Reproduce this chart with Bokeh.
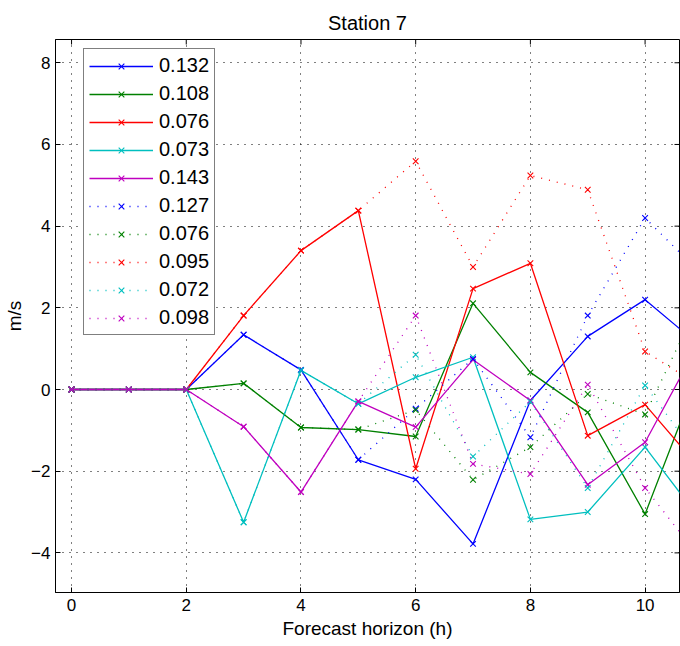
from bokeh.plotting import figure
from bokeh.models import Range1d, Legend, LegendItem, FixedTicker
from bokeh.embed import file_html
from bokeh.resources import INLINE

horizon = [0, 1, 2, 3, 4, 5, 6, 7, 8, 9, 10, 11]
x_ticks = [0, 2, 4, 6, 8, 10]
y_ticks = [-4, -2, 0, 2, 4, 6, 8]
x_lo, x_hi = -0.28, 10.6
y_lo, y_hi = -4.97, 8.57

labels = ["0.132", "0.108", "0.076", "0.073", "0.143",
          "0.127", "0.076", "0.095", "0.072", "0.098"]

s_blue_132 = [0, 0, 0, 1.34, 0.48, -1.72, -2.20, -3.78, -0.27, 1.30, 2.20, 1.02]
s_green_108 = [0, 0, 0, 0.15, -0.93, -0.98, -1.15, 2.11, 0.42, -0.56, -3.05, 0.60]
s_red_076 = [0, 0, 0, 1.81, 3.40, 4.38, -1.94, 2.47, 3.09, -1.13, -0.37, -2.00]
s_cyan_073 = [0, 0, 0, -3.25, 0.47, -0.35, 0.30, 0.79, -3.18, -3.00, -1.41, -3.25]
s_mag_143 = [0, 0, 0, -0.91, -2.51, -0.29, -0.92, 0.73, -0.27, -2.33, -1.29, 1.30]

d_blue_127 = [0, 0, 0, 1.34, 0.48, -1.72, -0.47, 0.75, -1.17, 1.81, 4.20, 2.80]
d_green_076 = [0, 0, 0, 0.15, -0.93, -0.98, -0.50, -2.21, -1.41, -0.11, -0.61, 2.30]
d_red_095 = [0, 0, 0, 1.81, 3.40, 4.38, 5.59, 3.00, 5.24, 4.89, 0.93, 0.05]
d_cyan_072 = [0, 0, 0, -3.25, 0.47, -0.35, 0.85, -1.64, -0.30, -2.41, 0.10, -1.80]
d_mag_098 = [0, 0, 0, -0.91, -2.51, -0.29, 1.81, -1.82, -2.07, 0.12, -2.41, -4.20]

series = [s_blue_132, s_green_108, s_red_076, s_cyan_073, s_mag_143,
          d_blue_127, d_green_076, d_red_095, d_cyan_072, d_mag_098]
colors = ["#0000FF", "#008000", "#FF0000", "#00BFBF", "#BF00BF"] * 2
dashes = ["solid"] * 5 + ["1 7"] * 5

FONT = "Liberation Sans, Arial"

p = figure(width=680, height=646, output_backend="svg", toolbar_location=None,
           x_range=Range1d(x_lo, x_hi), y_range=Range1d(y_lo, y_hi),
           title="Station 7", x_axis_label="Forecast horizon (h)", y_axis_label="m/s",
           min_border_left=55, min_border_right=1, min_border_top=39, min_border_bottom=54)

p.title.align = "center"
p.title.vertical_align = "top"
p.title.text_font = FONT
p.title.text_font_size = "20px"
p.title.text_font_style = "normal"
p.title.text_color = "#000000"
p.title.standoff = 8

p.outline_line_color = "#000000"
p.outline_line_width = 1
p.background_fill_color = "#FFFFFF"
p.border_fill_color = "#FFFFFF"

for ax, ticks in ((p.xaxis[0], x_ticks), (p.yaxis[0], y_ticks)):
    ax.ticker = FixedTicker(ticks=ticks)
    ax.major_tick_in = 5
    ax.major_tick_out = 0
    ax.minor_tick_line_color = None
    ax.axis_line_color = "#000000"
    ax.major_tick_line_color = "#000000"
    ax.major_label_text_font = FONT
    ax.major_label_text_font_size = "17px"
    ax.major_label_text_color = "#000000"
    ax.axis_label_text_font = FONT
    ax.axis_label_text_font_size = "19px"
    ax.axis_label_text_font_style = "normal"
    ax.axis_label_text_color = "#000000"
p.xaxis[0].major_label_standoff = 6
p.xaxis[0].axis_label_standoff = 4
p.yaxis[0].major_label_standoff = 5
p.yaxis[0].axis_label_standoff = 3

# inward tick marks on the top and right edges of the box
p.ray(x=x_ticks, y=[y_hi] * len(x_ticks), length=5, length_units="screen",
      angle=-90, angle_units="deg", line_color="#000000", line_width=1)
p.ray(x=[x_hi] * len(y_ticks), y=y_ticks, length=5, length_units="screen",
      angle=180, angle_units="deg", line_color="#000000", line_width=1)

p.xgrid.ticker = FixedTicker(ticks=x_ticks)
p.ygrid.ticker = FixedTicker(ticks=y_ticks)
for g in (p.xgrid, p.ygrid):
    g.grid_line_color = "#000000"
    g.grid_line_dash = "1 6"
    g.grid_line_width = 1

items = []
for lab, ys, c, d in zip(labels, series, colors, dashes):
    ln = p.line(horizon, ys, line_color=c, line_width=1.3, line_dash=d)
    mk = p.scatter(horizon, ys, marker="x", size=8, line_color=c, line_width=1.1)
    items.append(LegendItem(label=lab, renderers=[ln, mk]))

legend = Legend(items=items, location=(28, 257))
legend.glyph_width = 64
legend.glyph_height = 20
legend.label_height = 20
legend.spacing = 5
legend.padding = 5
legend.margin = 0
legend.label_standoff = 6
legend.label_text_font = FONT
legend.label_text_font_size = "20px"
legend.label_text_color = "#000000"
legend.border_line_color = "#000000"
legend.border_line_width = 1
legend.background_fill_color = "#FFFFFF"
legend.background_fill_alpha = 1
p.add_layout(legend)

open("out.html", "w").write(file_html(p, INLINE))
